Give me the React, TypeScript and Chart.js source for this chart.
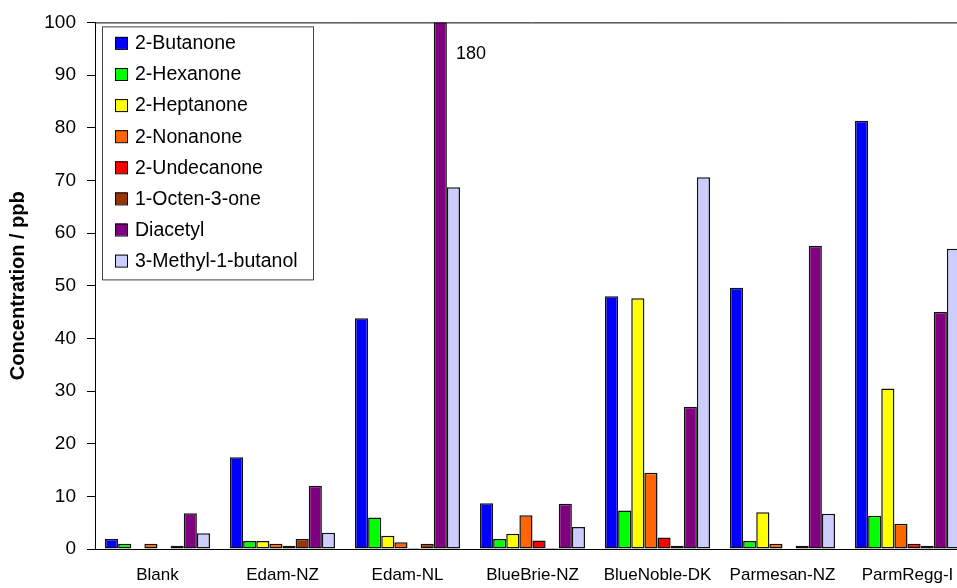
import React, { useEffect, useRef } from "react";
import { Chart, registerables } from "chart.js";

Chart.register(...registerables);

const categories = ["Blank", "Edam-NZ", "Edam-NL", "BlueBrie-NZ", "BlueNoble-DK", "Parmesan-NZ", "ParmRegg-I"];
const seriesNames = ["2-Butanone", "2-Hexanone", "2-Heptanone", "2-Nonanone", "2-Undecanone", "1-Octen-3-one", "Diacetyl", "3-Methyl-1-butanol"];
const butanone = [1.9, 17.4, 43.8, 8.7, 48.0, 49.6, 81.3];
const hexanone = [1.0, 1.5, 6.0, 1.9, 7.3, 1.5, 6.3];
const heptanone = [0.1, 1.5, 2.5, 2.9, 47.6, 7.0, 30.5];
const nonanone = [1.0, 1.0, 1.3, 6.4, 14.5, 1.0, 4.8];
const undecanone = [0.1, 0.6, 0.2, 1.6, 2.2, 0.1, 1.0];
const octenone = [0.6, 1.9, 1.0, 0.2, 0.6, 0.6, 0.6];
const diacetyl = [6.8, 12.0, 180, 8.6, 27.0, 57.6, 45.0];
const methylbutanol = [3.0, 3.1, 68.7, 4.2, 70.6, 6.7, 57.0];
const yTicksMax = 100;
const yTickStep = 10;

const colors = ["#0000FF", "#00FF00", "#FFFF00", "#FF6600", "#FF0000", "#993300", "#800080", "#CCCCFF"];
const FONT = "'Liberation Sans', Arial, sans-serif";

export default function App() {
  const ref = useRef<HTMLCanvasElement | null>(null);
  useEffect(() => {
    document.body.style.margin = "0";
    const series = [butanone, hexanone, heptanone, nonanone, undecanone, octenone, diacetyl, methylbutanol];
    const legendPlugin = {
      id: "customLegend",
      afterDraw(chart: any) {
        const { ctx, chartArea } = chart;
        ctx.save();
        ctx.strokeStyle = "#000";
        ctx.lineWidth = 1;
        ctx.beginPath();
        ctx.moveTo(chartArea.left, chartArea.top + 0.5);
        ctx.lineTo(chartArea.right, chartArea.top + 0.5);
        ctx.stroke();
        const bx = chartArea.left + 7;
        const by = chartArea.top + 4;
        const bw = 211;
        const bh = 253;
        ctx.fillStyle = "#fff";
        ctx.fillRect(bx, by, bw, bh);
        ctx.strokeStyle = "#444";
        ctx.strokeRect(bx + 0.5, by + 0.5, bw, bh);
        ctx.font = `19.5px ${FONT}`;
        ctx.textBaseline = "middle";
        chart.data.datasets.forEach((ds: any, i: number) => {
          const cy = by + 16.5 + i * 31.1;
          ctx.fillStyle = ds.backgroundColor;
          ctx.fillRect(bx + 13, cy - 6, 12, 12);
          ctx.strokeStyle = "#000";
          ctx.strokeRect(bx + 13.5, cy - 5.5, 12, 12);
          ctx.fillStyle = "#000";
          ctx.fillText(ds.label, bx + 33, cy + 1);
        });
        const meta = chart.getDatasetMeta(6);
        const idx = diacetyl.findIndex((v) => v > yTicksMax);
        if (idx >= 0) {
          const bar = meta.data[idx];
          const y = chart.scales.y.getPixelForValue(94);
          ctx.fillStyle = "#000";
          ctx.font = `18px ${FONT}`;
          ctx.textBaseline = "middle";
          ctx.fillText(String(diacetyl[idx]), bar.x + bar.width / 2 + 9, y);
        }
        ctx.restore();
      },
    };
    const chart = new Chart(ref.current as HTMLCanvasElement, {
      type: "bar",
      data: {
        labels: categories,
        datasets: seriesNames.map((name, i) => ({
          label: name,
          data: series[i],
          backgroundColor: colors[i],
          borderColor: "#111",
          borderWidth: 1.5,
          borderSkipped: false,
          categoryPercentage: 0.84,
          barPercentage: 1,
        })),
      },
      options: {
        animation: false,
        responsive: true,
        maintainAspectRatio: false,
        layout: { padding: { top: 20, right: 5, left: 0, bottom: 0 } },
        plugins: { legend: { display: false }, tooltip: { enabled: false } },
        scales: {
          x: {
            grid: { display: false, drawTicks: false },
            border: { color: "#000", width: 1 },
            ticks: { color: "#000", font: { size: 17, family: FONT }, padding: 16, maxRotation: 0, autoSkip: false },
            afterFit(s: any) { s.height = 39; },
          },
          y: {
            min: 0,
            max: yTicksMax,
            ticks: { stepSize: yTickStep, color: "#000", font: { size: 19, family: FONT }, padding: 11 },
            grid: { drawOnChartArea: false, tickLength: 8, color: "#000" },
            border: { color: "#000", width: 1 },
            title: {
              display: true,
              text: "Concentration / ppb",
              color: "#000",
              font: { size: 20, weight: "bold", family: FONT },
              padding: { top: 6, bottom: 0 },
            },
            afterFit(s: any) { s.width = 95; },
          },
        },
      },
      plugins: [legendPlugin],
    } as any);
    return () => chart.destroy();
  }, []);
  return (
    <div style={{ position: "fixed", left: 0, top: 0, width: 957, height: 588, overflow: "hidden", background: "#fff" }}>
      <div style={{ position: "relative", width: 975, height: 588 }}>
        <canvas ref={ref} />
      </div>
    </div>
  );
}
